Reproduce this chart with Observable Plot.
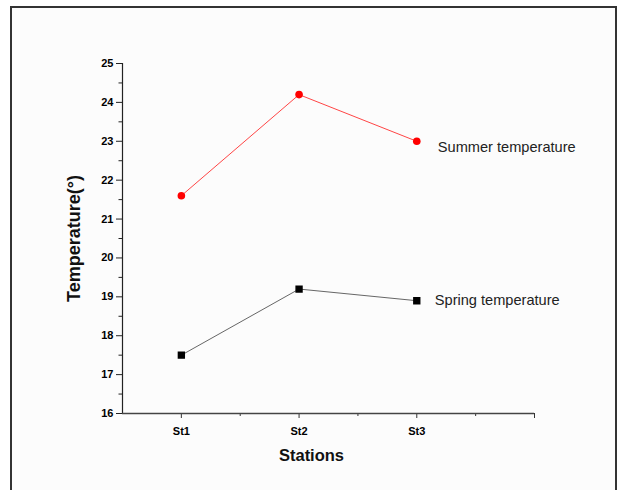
<!DOCTYPE html>
<html>
<head>
<meta charset="utf-8">
<script src="https://cdn.jsdelivr.net/npm/d3@7"></script>
<script src="https://cdn.jsdelivr.net/npm/@observablehq/plot@0.6"></script>
<style>
  body { margin: 0; background: #ffffff; }
  #wrap { position: relative; width: 619px; height: 490px; overflow: hidden; }
  #frame { position: absolute; left: 10px; top: 6px; width: 603px; height: 500px;
           border-left: 2px solid #333; border-top: 2px solid #333; border-right: 2px solid #333;
           background: #fcfcfc; }
  #chart { position: absolute; left: 0; top: 0; }
</style>
</head>
<body>
<div id="wrap"><div id="frame"></div><div id="chart"></div></div>
<script>
const stations = ["St1", "St2", "St3"];
const summerTemp = [21.6, 24.2, 23.0];
const springTemp = [17.5, 19.2, 18.9];
const yTicks = [16, 17, 18, 19, 20, 21, 22, 23, 24, 25];
const seriesLabels = ["Summer temperature", "Spring temperature"];

const summer = stations.map((s, i) => ({x: i + 1, station: s, v: summerTemp[i]}));
const spring = stations.map((s, i) => ({x: i + 1, station: s, v: springTemp[i]}));
const yMinor = d3.range(16.5, 25, 1);
const xMinor = [1.5, 2.5, 3.5];
const xMajor = [1, 2, 3, 4];

const font = "Liberation Sans, Arial, sans-serif";

const chart = Plot.plot({
  width: 619,
  height: 490,
  marginLeft: 122,
  marginRight: 85,
  marginTop: 63,
  marginBottom: 77,
  style: {fontFamily: font, background: "transparent", overflow: "visible"},
  x: {type: "linear", domain: [0.5, 4]},
  y: {domain: [16, 25]},
  marks: [
    Plot.axisY({ticks: yTicks, tickSize: 6, tickPadding: 3, label: null, fontWeight: "bold", fontSize: 11, stroke: "#222"}),
    Plot.axisY({ticks: yMinor, tickSize: 3.5, text: null, label: null, stroke: "#222"}),
    Plot.axisX({ticks: xMajor, tickSize: 5, tickPadding: 9, label: null, fontWeight: "bold", fontSize: 11, stroke: "#333",
      tickFormat: d => stations[d - 1] ?? ""}),
    Plot.axisX({ticks: xMinor, tickSize: 3, text: null, label: null, stroke: "#333"}),
    Plot.ruleX([0.5], {stroke: "#222", strokeWidth: 1.2}),
    Plot.ruleY([16], {stroke: "#444", strokeWidth: 1.6}),
    Plot.line(summer, {x: "x", y: "v", stroke: "#ff3030", strokeWidth: 0.9}),
    Plot.dot(summer, {x: "x", y: "v", fill: "#ff0000", r: 3.8, symbol: "circle"}),
    Plot.line(spring, {x: "x", y: "v", stroke: "#555", strokeWidth: 0.9}),
    Plot.dot(spring, {x: "x", y: "v", fill: "#000", stroke: "#000", r: 3.3, symbol: "square"}),
    Plot.text([summer[2]], {x: "x", y: "v", text: () => seriesLabels[0], textAnchor: "start", dx: 21, dy: 6, fontSize: 14.6, fill: "#222"}),
    Plot.text([spring[2]], {x: "x", y: "v", text: () => seriesLabels[1], textAnchor: "start", dx: 18, dy: 0, fontSize: 14.6, fill: "#222"}),
    Plot.text(["Temperature(°)"], {frameAnchor: "left", textAnchor: "middle", dx: -48, rotate: -90, fontWeight: "bold", fontSize: 18, fill: "#111"}),
    Plot.text(["Stations"], {frameAnchor: "bottom", textAnchor: "middle", dx: -17, dy: 47, fontWeight: "bold", fontSize: 16.5, fill: "#111"})
  ]
});
document.getElementById("chart").appendChild(chart);
</script>
</body>
</html>
